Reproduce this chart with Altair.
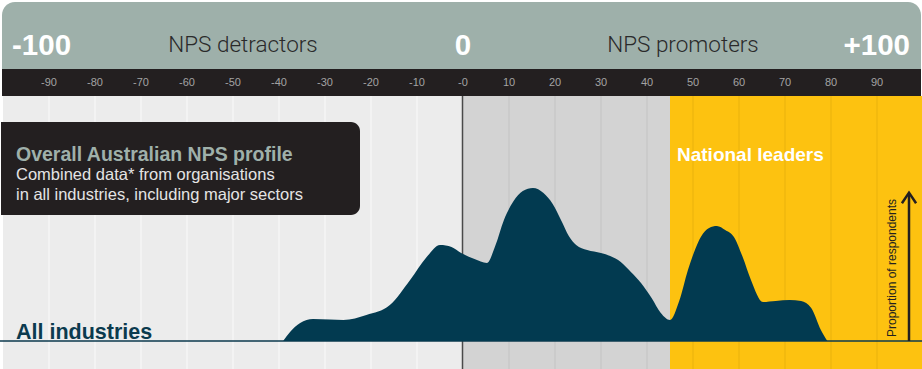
import altair as alt
import pandas as pd

# ---- data ----
nps_score = [-39.1, -37.6, -35.4, -32.6, -29, -26, -21, -15.9, -11.5, -7.9, -5, -2.5, -0.4,
             2.5, 5.2, 7, 8.9, 11, 13, 15.2, 17.5, 19.5, 21.3, 23, 24.6, 27, 30, 32, 34.3,
             36.5, 38.7, 41, 43, 45, 47, 48.9, 50.5, 51.7, 53.5, 55.2, 57, 58.9, 60.8, 62.6,
             65.2, 68, 71, 73.5, 75.7, 77.8, 79.2]
proportion = [0, 9, 18, 22, 21.5, 21, 26, 36, 61, 84, 96, 94, 88,
              82, 78, 95, 121, 140, 150, 153, 148, 137, 121, 105, 96, 91, 88, 85, 79,
              69, 58, 43, 28, 21, 40, 71, 92, 104, 113, 115, 111, 104, 84, 61,
              39, 40, 41, 40, 33, 11, 0]

tick_values = [-90, -80, -70, -60, -50, -40, -30, -20, -10, 0, 10, 20, 30, 40, 50, 60, 70, 80, 90]
tick_labels = ["-90", "-80", "-70", "-60", "-50", "-40", "-30", "-20", "-10", "-0",
               "10", "20", "30", "40", "50", "60", "70", "80", "90"]

zone_start = [-100, 0, 45]
zone_end = [0, 45, 100]
zone_fill = ["#ececec", "#d3d3d3", "#fdc210"]
zone_grid = ["#fafafa", "#c3c3c3", "#e9b20c"]

# ---- tables ----
curve = pd.DataFrame({"score": nps_score, "proportion": proportion})
zones = pd.DataFrame({"start": zone_start, "end": zone_end, "fill": zone_fill})


def grid_color(v):
    for s, e, c in zip(zone_start, zone_end, zone_grid):
        if s <= v < e:
            return c
    return zone_grid[-1]


grid = pd.DataFrame({"v": [v for v in tick_values if v != 0]})
grid["c"] = [grid_color(v) for v in grid["v"]]
ticks = pd.DataFrame({"v": tick_values, "label": tick_labels})
one = pd.DataFrame({"k": [0]})

xs = alt.Scale(domain=[-100, 100], range=[3, 923])
ys = alt.Scale(domain=[0, 160], range=[341, 181])
FONT = "Liberation Sans"

bg = alt.Chart(zones).mark_rect().encode(
    x=alt.X("start:Q", scale=xs, axis=None), x2="end:Q",
    y=alt.value(96), y2=alt.value(369),
    color=alt.Color("fill:N", scale=None))

gridlines = alt.Chart(grid).mark_rule(strokeWidth=1).encode(
    x=alt.X("v:Q", scale=xs, axis=None), y=alt.value(96), y2=alt.value(369),
    color=alt.Color("c:N", scale=None))

zero_line = alt.Chart(one).mark_rule(color="#4a4a4a", strokeWidth=1.5).encode(
    x=alt.value(462.5), y=alt.value(96), y2=alt.value(369))

header = alt.Chart(one).mark_rect(color="#9eb0aa", cornerRadiusTopLeft=13,
                                  cornerRadiusTopRight=13).encode(
    x=alt.value(2), x2=alt.value(921), y=alt.value(2), y2=alt.value(69))

band = alt.Chart(one).mark_rect(color="#231f20").encode(
    x=alt.value(2), x2=alt.value(921), y=alt.value(69), y2=alt.value(96))

tick_text = alt.Chart(ticks).mark_text(font=FONT, fontSize=11, color="#a3a3a3",
                                       baseline="middle", align="center").encode(
    x=alt.X("v:Q", scale=xs, axis=None), y=alt.value(83), text="label:N")

def txt(s, x, y, font=FONT, **kw):
    return alt.Chart(one).mark_text(text=s, font=font, **kw).encode(
        x=alt.value(x), y=alt.value(y))

h1 = txt("-100", 12, 46, fontSize=29.5, fontWeight="bold", color="white", align="left")
h2 = txt("NPS detractors", 243, 45, font="Roboto", fontSize=22.5, fontWeight=300,
         color="#2a2a2a", align="center")
h3 = txt("0", 463, 46, fontSize=29.5, fontWeight="bold", color="white", align="center")
h4 = txt("NPS promoters", 683, 45, font="Roboto", fontSize=22.5, fontWeight=300,
         color="#2a2a2a", align="center")
h5 = txt("+100", 910, 46, fontSize=29.5, fontWeight="bold", color="white", align="right")

box = alt.Chart(one).mark_rect(color="#231f20", cornerRadiusTopRight=9,
                               cornerRadiusBottomRight=9).encode(
    x=alt.value(1), x2=alt.value(360), y=alt.value(122), y2=alt.value(215))
b1 = txt("Overall Australian NPS profile", 16, 155, fontSize=19.5, fontWeight="bold",
         color="#9fb0aa", align="left")
b2 = txt("Combined data* from organisations", 16, 175, fontSize=16.5, color="#e4e4e4", align="left")
b3 = txt("in all industries, including major sectors", 16, 195, fontSize=16.5,
         color="#e4e4e4", align="left")

leaders = txt("National leaders", 677, 155, fontSize=19, fontWeight="bold",
              color="white", align="left")

baseline = alt.Chart(one).mark_rule(color="#0d3a4e", strokeWidth=1.5).encode(
    x=alt.value(0), x2=alt.value(922), y=alt.value(341))

area = alt.Chart(curve).mark_area(color="#023a50", interpolate="monotone").encode(
    x=alt.X("score:Q", scale=xs, axis=None),
    y=alt.Y("proportion:Q", scale=ys, axis=None))

all_ind = txt("All industries", 16, 333, fontSize=21.5, fontWeight="bold",
              color="#0b3a4e", align="left")

arrow = alt.Chart(one).mark_rule(color="#231f20", strokeWidth=2.5).encode(
    x=alt.value(909), y=alt.value(194), y2=alt.value(341))
head = alt.Chart(one).mark_point(shape="M-1,0.6 L0,-0.9 L1,0.6", size=200, filled=False,
                                 color="#231f20", strokeWidth=2.5, opacity=1).encode(
    x=alt.value(909), y=alt.value(199))
prop = txt("Proportion of respondents", 892, 268, fontSize=12, color="#231f20",
           align="center", baseline="middle", angle=270)

chart = alt.layer(
    bg, gridlines, zero_line, header, band, tick_text, h1, h2, h3, h4, h5,
    box, b1, b2, b3, leaders, baseline, area, all_ind, arrow, head, prop
).properties(
    width=922, height=369, autosize=alt.AutoSizeParams(type="none"), padding=0,
    background="white"
).configure_view(stroke=None)

chart.save("out.html", embed_options={"renderer": "svg", "actions": False})
